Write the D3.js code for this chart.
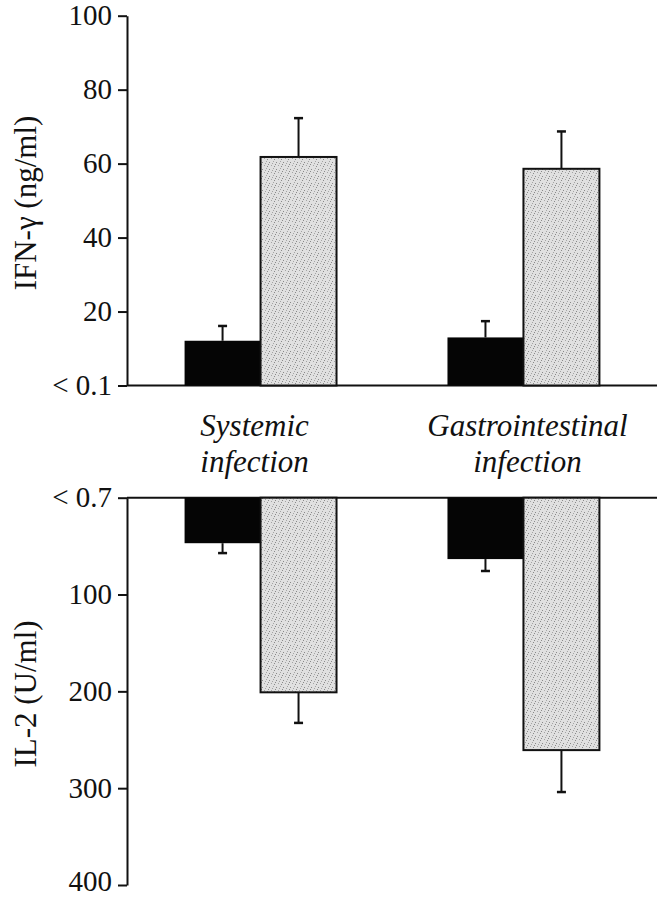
<!DOCTYPE html>
<html>
<head>
<meta charset="utf-8">
<script src="https://cdn.jsdelivr.net/npm/d3@7"></script>
<style>
  body { margin: 0; background: #fff; }
  svg { display: block; }
  text { font-family: "Liberation Serif", "Times New Roman", serif; fill: #111; }
</style>
</head>
<body>
<div id="chart"></div>
<script>
// ---------- DATA ----------
const GROUPS = ["Systemic infection", "Gastrointestinal infection"];
const SERIES = ["filled", "stippled"];

// IFN-gamma (ng/ml), upper panel
const IFN_MEAN = [[12.1, 61.8], [13.0, 58.6]];
const IFN_ERR  = [[4.0, 10.5], [4.4, 10.1]];
const IFN_TICKS = [0, 20, 40, 60, 80, 100];
const IFN_TICK_LABELS = ["< 0.1", "20", "40", "60", "80", "100"];

// IL-2 (U/ml), lower panel (bars hang down)
const IL2_MEAN = [[47, 201], [63.4, 260.7]];
const IL2_ERR  = [[10.2, 31.6], [12.3, 43.3]];
const IL2_TICKS = [0, 100, 200, 300, 400];
const IL2_TICK_LABELS = ["< 0.7", "100", "200", "300", "400"];

// ---------- SCAFFOLD ----------
const width = 666, height = 899;
const axisX = 127, rightX = 657;

const svg = d3.select("#chart").append("svg")
  .attr("width", width)
  .attr("height", height);

// stipple texture for the grey bars
const defs = svg.append("defs");
const pat = defs.append("pattern")
  .attr("id", "stipple")
  .attr("patternUnits", "userSpaceOnUse")
  .attr("width", 7).attr("height", 7);
pat.append("rect").attr("width", 7).attr("height", 7).attr("fill", "#e0e0e0");
[[0, 0], [3, 1], [5, 4], [1, 5], [6, 2], [2, 3]].forEach(([px, py], i) => {
  pat.append("rect").attr("x", px).attr("y", py)
    .attr("width", 1).attr("height", 1)
    .attr("fill", i % 2 ? "#8a8a8a" : "#a5a5a5");
});

const x0 = d3.scaleBand()
  .domain(GROUPS)
  .range([axisX, rightX])
  .paddingInner(0.422)
  .paddingOuter(0.219);

const x1 = d3.scaleBand()
  .domain(SERIES)
  .range([0, x0.bandwidth()]);

const yTop = d3.scaleLinear().domain([0, 100]).range([385.5, 15.7]);
const yBot = d3.scaleLinear().domain([0, 400]).range([497.7, 885]);

function drawPanel(y, means, errs, ticks, tickLabels, dir) {
  const g = svg.append("g");

  // baseline across the panel
  g.append("line")
    .attr("x1", axisX).attr("x2", rightX)
    .attr("y1", y(0)).attr("y2", y(0))
    .attr("stroke", "#111").attr("stroke-width", 2);

  const rows = [];
  GROUPS.forEach((grp, i) => {
    SERIES.forEach((s, j) => {
      rows.push({ grp, s, v: means[i][j], e: errs[i][j] });
    });
  });

  // error bars (only the outward half)
  const eb = g.selectAll(".err").data(rows).join("g").attr("class", "err");
  eb.append("line")
    .attr("x1", d => x0(d.grp) + x1(d.s) + x1.bandwidth() / 2)
    .attr("x2", d => x0(d.grp) + x1(d.s) + x1.bandwidth() / 2)
    .attr("y1", d => y(d.v))
    .attr("y2", d => y(d.v + d.e))
    .attr("stroke", "#111").attr("stroke-width", 2);
  eb.append("line")
    .attr("x1", d => x0(d.grp) + x1(d.s) + x1.bandwidth() / 2 - 4.5)
    .attr("x2", d => x0(d.grp) + x1(d.s) + x1.bandwidth() / 2 + 4.5)
    .attr("y1", d => y(d.v + d.e))
    .attr("y2", d => y(d.v + d.e))
    .attr("stroke", "#111").attr("stroke-width", 2.5);

  // bars
  g.selectAll(".bar").data(rows).join("rect")
    .attr("class", "bar")
    .attr("x", d => x0(d.grp) + x1(d.s))
    .attr("width", x1.bandwidth())
    .attr("y", d => dir > 0 ? y(d.v) : y(0))
    .attr("height", d => Math.abs(y(d.v) - y(0)))
    .attr("fill", d => d.s === "filled" ? "#050505" : "url(#stipple)")
    .attr("stroke", "#111")
    .attr("stroke-width", d => d.s === "filled" ? 0 : 2);

  // y axis
  const axis = d3.axisLeft(y)
    .tickValues(ticks)
    .tickFormat((d, i) => tickLabels[i])
    .tickSize(9)
    .tickSizeOuter(0)
    .tickPadding(6);
  const ag = g.append("g")
    .attr("transform", `translate(${axisX},0)`)
    .call(axis);
  ag.select(".domain").attr("stroke", "#111").attr("stroke-width", 2);
  ag.selectAll(".tick line").attr("stroke", "#111").attr("stroke-width", 2);
  ag.selectAll(".tick text")
    .attr("fill", "#111")
    .style("font-family", "'Liberation Serif', 'Times New Roman', serif")
    .style("font-size", "29px");
  return ag;
}

drawPanel(yTop, IFN_MEAN, IFN_ERR, IFN_TICKS, IFN_TICK_LABELS, 1);
const botAxis = drawPanel(yBot, IL2_MEAN, IL2_ERR, IL2_TICKS, IL2_TICK_LABELS, -1);
// keep the lowest label clear of the page edge
botAxis.selectAll(".tick text").filter(d => d === 400).attr("dy", "0.18em");

// axis titles
svg.append("text")
  .attr("transform", "translate(36,203) rotate(-90)")
  .attr("text-anchor", "middle")
  .style("font-size", "31px")
  .text("IFN-\u03b3 (ng/ml)");

svg.append("text")
  .attr("transform", "translate(36,694) rotate(-90)")
  .attr("text-anchor", "middle")
  .style("font-size", "31px")
  .text("IL-2 (U/ml)");

// group labels between the panels (slightly off the bar-pair centres, as in the original)
const LABEL_SHIFT = [-6, 4];
const lab = svg.selectAll(".grp-label").data(GROUPS).join("text")
  .attr("class", "grp-label")
  .attr("text-anchor", "middle")
  .style("font-size", "31px")
  .style("font-style", "italic");
lab.append("tspan")
  .attr("x", (d, i) => x0(d) + x0.bandwidth() / 2 + LABEL_SHIFT[i])
  .attr("y", 436)
  .text(d => d.split(" ")[0]);
lab.append("tspan")
  .attr("x", (d, i) => x0(d) + x0.bandwidth() / 2 + LABEL_SHIFT[i])
  .attr("y", 472)
  .text(d => d.split(" ")[1]);
</script>
</body>
</html>
